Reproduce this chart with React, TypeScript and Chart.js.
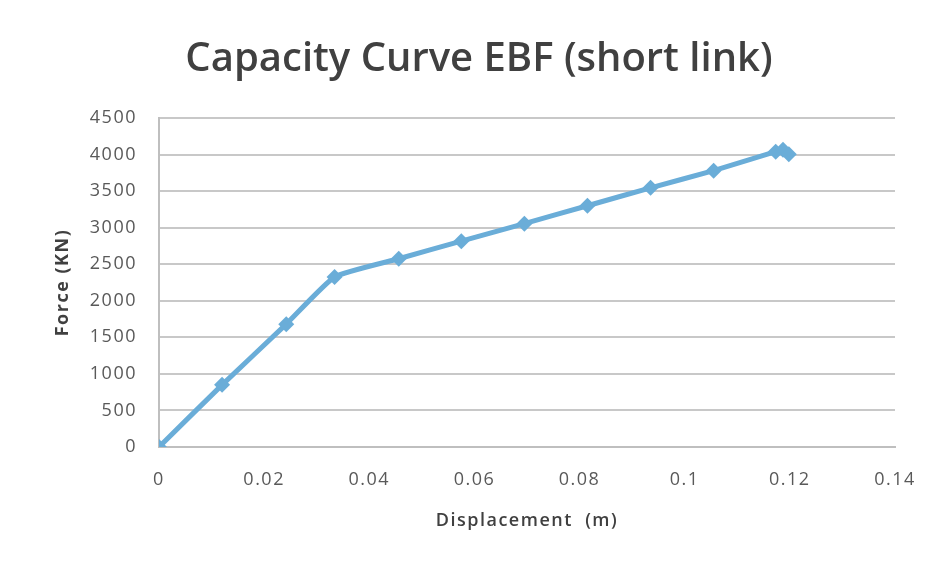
import React, { useEffect, useRef } from "react";
import { Chart, registerables } from "chart.js";

Chart.register(...registerables);

const chartTitle = "Capacity Curve EBF (short link)";
const xAxisTitle = "Displacement  (m)";
const yAxisTitle = "Force (KN)";

// Pushover capacity curve: roof displacement (m) vs base shear (kN)
const displacement = [0, 0.012, 0.0242, 0.0334, 0.0456, 0.0575, 0.0695, 0.0815, 0.0935, 0.1055, 0.1173, 0.1187, 0.1198];
const force = [0, 850, 1680, 2325, 2575, 2815, 3055, 3300, 3545, 3780, 4040, 4065, 4005];

const xMin = 0;
const xMax = 0.14;
const xStep = 0.02;
const yMin = 0;
const yMax = 4500;
const yStep = 500;

const lineColor = "#6AADD8";

// Slightly open letter spacing for the axis text
const spacingPlugin = {
  id: "axisLetterSpacing",
  beforeDraw(chart: Chart) {
    (chart.ctx as any).letterSpacing = "1.5px";
  },
};

const titlePlugin = {
  id: "centredTitle",
  afterDraw(chart: Chart) {
    const ctx = chart.ctx;
    ctx.save();
    (ctx as any).letterSpacing = "0px";
    ctx.font = "600 40px 'Open Sans'";
    ctx.fillStyle = "#404040";
    ctx.textAlign = "center";
    ctx.textBaseline = "middle";
    ctx.fillText(chartTitle, 479, 60);
    ctx.restore();
  },
};

export default function App() {
  const canvasRef = useRef<HTMLCanvasElement | null>(null);

  useEffect(() => {
    document.body.style.margin = "0";
    const canvas = canvasRef.current;
    if (!canvas) return;
    const points = displacement.map((x, i) => ({ x, y: force[i] }));
    const chart = new Chart(canvas, {
      type: "line",
      data: {
        datasets: [
          {
            data: points,
            borderColor: lineColor,
            backgroundColor: lineColor,
            borderWidth: 5,
            pointStyle: "rectRot",
            pointRadius: 8,
            pointHoverRadius: 8,
            pointBorderWidth: 0,
            tension: 0.15,
            fill: false,
          },
        ],
      },
      plugins: [spacingPlugin, titlePlugin],
      options: {
        animation: false,
        responsive: false,
        maintainAspectRatio: false,
        layout: { padding: { left: 48, right: 41, top: 118, bottom: 30 } },
        plugins: {
          legend: { display: false },
          tooltip: { enabled: false },
          title: { display: false },
        },
        scales: {
          x: {
            type: "linear",
            min: xMin,
            max: xMax,
            ticks: {
              stepSize: xStep,
              color: "#595959",
              font: { family: "'Open Sans'", size: 18 },
              padding: 22,
              maxRotation: 0,
              callback: (v: any) => String(Math.round(Number(v) * 100) / 100),
            },
            grid: { display: false, drawTicks: false },
            border: { display: true, color: "#BFBFBF", width: 2 },
            title: {
              display: true,
              text: xAxisTitle,
              color: "#404040",
              font: { family: "'Open Sans'", size: 18, weight: "600" },
              padding: { top: 8, bottom: 4 },
            },
            afterFit: (scale: any) => {
              scale.height = 566 - 30 - 447;
            },
          },
          y: {
            type: "linear",
            min: yMin,
            max: yMax,
            ticks: {
              stepSize: yStep,
              color: "#595959",
              font: { family: "'Open Sans'", size: 18 },
              padding: 22,
              callback: (v: any) => String(v),
            },
            grid: { color: "#C8C8C8", lineWidth: 2, drawTicks: false },
            border: { display: true, color: "#BFBFBF", width: 2 },
            title: {
              display: true,
              text: yAxisTitle,
              color: "#404040",
              font: { family: "'Open Sans'", size: 18, weight: "bold" },
              padding: { bottom: 0 },
            },
            afterFit: (scale: any) => {
              scale.width = 159 - 48;
            },
          },
        },
      },
    });
    return () => chart.destroy();
  }, []);

  return (
    <div style={{ position: "absolute", left: 0, top: 0, width: 936, height: 566, background: "#fff" }}>
      <canvas ref={canvasRef} width={936} height={566} style={{ width: 936, height: 566 }} />
    </div>
  );
}
